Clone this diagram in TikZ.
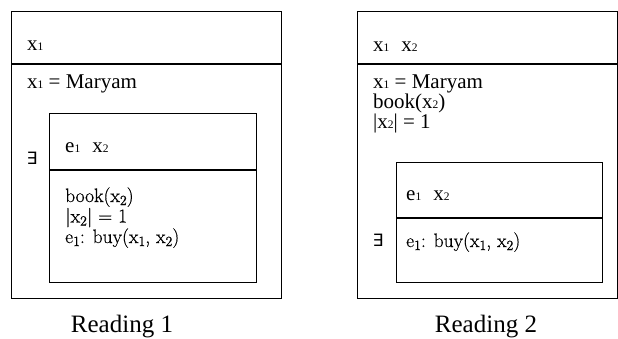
\documentclass[tikz,border=0pt]{standalone}
\usepackage{fontspec}
\setmainfont{LiberationSerif}[Extension=.ttf, UprightFont=*-Regular, BoldFont=*-Bold, ItalicFont=*-Italic, BoldItalicFont=*-BoldItalic]
\newfontfamily\cambria{Latin Modern Roman}[FakeBold=0.6]
\newfontfamily\djv{DejaVu Sans}
\newcommand{\tsb}[1]{\raisebox{-0.8pt}{\fontsize{11.5}{11.5}\selectfont #1}}
\newcommand{\csb}[1]{\raisebox{-3pt}{\fontsize{14}{14}\selectfont #1}}
\tikzset{
  box/.style={draw, line width=1.2pt, rectangle, inner sep=0pt, anchor=north west},
  divline/.style={line width=1.2pt},
  ttext/.style={inner sep=0pt, anchor=base west, font=\fontsize{21}{21}\selectfont},
  ctext/.style={inner sep=0pt, anchor=base west, font=\cambria\fontsize{19.5}{19.5}\selectfont},
  extext/.style={inner sep=0pt, anchor=center, font=\djv\fontsize{17}{17}\selectfont},
  caption/.style={inner sep=0pt, anchor=base, font=\fontsize{25}{25}\selectfont}
}
\begin{document}
\begin{tikzpicture}[x=1pt,y=-1pt]
\useasboundingbox (0,0) rectangle (618,338);
% ---------- Reading 1 ----------
\node[box, minimum width=270pt, minimum height=287pt] (L) at (11,11) {};
\coordinate (Ld) at (11,64);
\draw[divline] (Ld) -- (Ld -| L.east);
\node[ttext] (Lh) at (27,50) {x\tsb{1}};
\node[ttext] (Lc1) at (27,88) {x\tsb{1} = Maryam};
\node[box, minimum width=207pt, minimum height=169pt] (Li) at (49,113) {};
\coordinate (Lid) at (49,170);
\draw[divline] (Lid) -- (Lid -| Li.east);
\node[ttext] (Lih) at (65,152) {e\tsb{1}\hspace{12pt}x\tsb{2}};
\node[extext] (Lex) at (32,158) {∃};
\node[ctext] (Lic1) at (65,202) {book(x\csb{2})};
\node[ctext] (Lic2) at (65,222.5) {|x\csb{2}| = 1};
\node[ctext] (Lic3) at (65,243) {e\csb{1}: buy(x\csb{1}, x\csb{2})};
\node[caption] (Lcap) at (122,332) {Reading 1};
% ---------- Reading 2 ----------
\node[box, minimum width=260pt, minimum height=287pt] (R) at (357,11) {};
\coordinate (Rd) at (357,64);
\draw[divline] (Rd) -- (Rd -| R.east);
\node[ttext] (Rh) at (373,51) {x\tsb{1}\hspace{12pt}x\tsb{2}};
\node[ttext] (Rc1) at (373,88) {x\tsb{1} = Maryam};
\node[ttext] (Rc2) at (373,108) {book(x\tsb{2})};
\node[ttext] (Rc3) at (373,128) {|x\tsb{2}| = 1};
\node[box, minimum width=206pt, minimum height=120pt] (Ri) at (396,162) {};
\coordinate (Rid) at (396,218);
\draw[divline] (Rid) -- (Rid -| Ri.east);
\node[ttext] (Rih) at (406,200) {e\tsb{1}\hspace{12pt}x\tsb{2}};
\node[extext] (Rex) at (378,240) {∃};
\node[ctext] (Ric1) at (406,247) {e\csb{1}: buy(x\csb{1}, x\csb{2})};
\node[caption] (Rcap) at (486,332) {Reading 2};
\end{tikzpicture}
\end{document}
